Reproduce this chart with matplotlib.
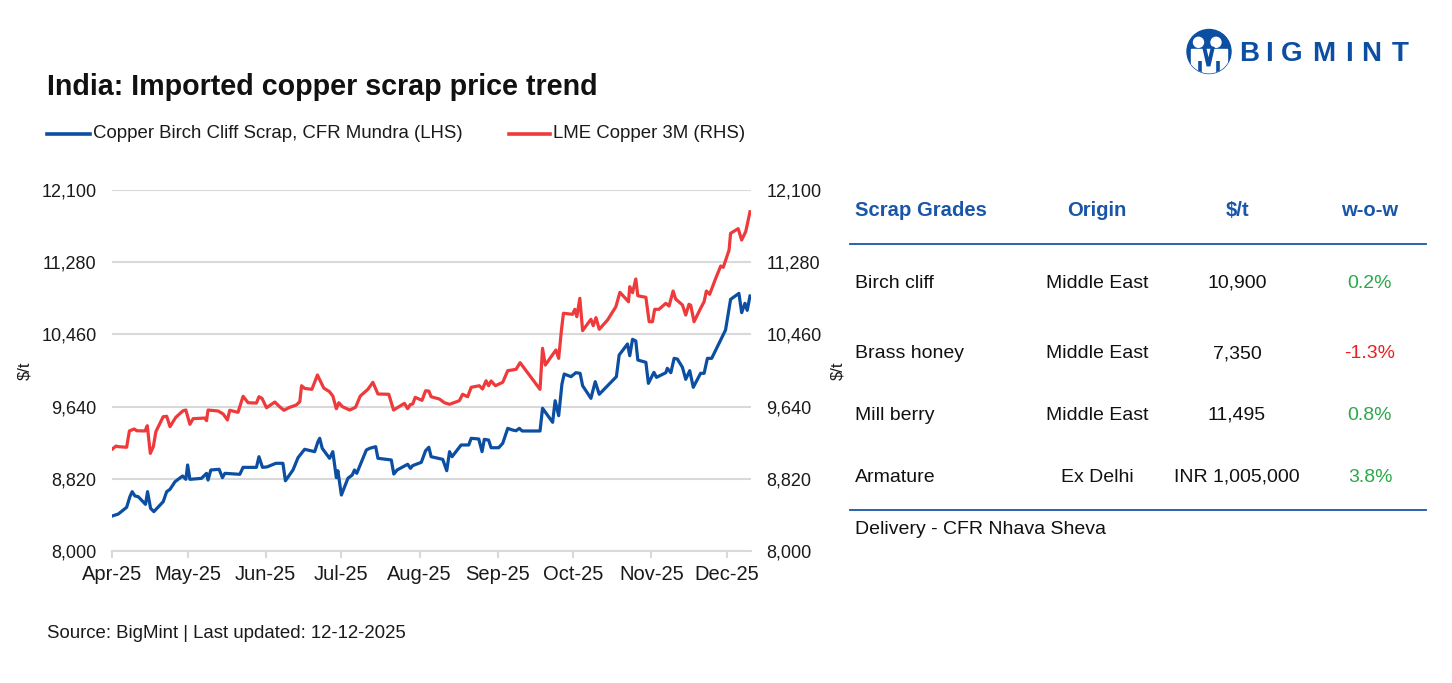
import matplotlib
matplotlib.use("Agg")
import matplotlib.pyplot as plt
import matplotlib.dates as mdates
import matplotlib.ticker as mticker
from matplotlib.patches import Circle, Polygon, Rectangle
import pandas as pd

plt.rcParams['font.family'] = ['Liberation Sans', 'DejaVu Sans']

# ---------------- data (days since 1 Apr 2025, $/t) ----------------
START = pd.Timestamp("2025-04-01")

red_days = [0, 1.6, 2.5, 5.8, 6.9, 8.8, 9.8, 13.1, 14.0, 15.2, 16.4, 17.4, 20.3, 21.7, 23.0,
            25.3, 28.2, 29.3, 30.9, 32.2, 36.8, 37.5, 38.1, 42.1, 44.1, 45.8, 46.7, 50.0, 52.0,
            54.0, 57.3, 58.3, 59.5, 61.3, 64.6, 66.5, 68.2, 70.5, 73.1, 74.5, 75.2, 76.4, 79.3,
            81.5, 84.0, 86.3, 87.6, 89.0, 90.0, 91.4, 94.3, 96.6, 98.5, 101.5, 103.5, 105.5,
            109.8, 111.7, 116.0, 117.3, 118.3, 119.3, 120.3, 123.0, 124.4, 125.7, 126.6, 129.9,
            131.9, 133.9, 137.8, 139.1, 141.1, 142.5, 145.7, 147.0, 148.4, 149.4, 150.4, 152.1,
            155.0, 157.0, 160.3, 161.9, 169.8, 170.8, 171.9, 176.1, 177.2, 178.3, 179.1, 182.7,
            183.6, 184.4, 185.6, 186.7, 188.6, 190.0, 190.9, 192.0, 193.3, 196.6, 199.9, 201.5,
            204.9, 205.4, 206.5, 207.8, 208.6, 211.8, 213.1, 214.4, 215.3, 217.0, 219.7, 221.0,
            222.6, 223.6, 226.3, 227.6, 228.9, 229.6, 230.9, 233.5, 234.9, 235.8, 237.1, 239.5,
            241.5, 242.5, 244.8, 245.4, 248.4, 249.8, 251.4, 253.1]
red_vals = [9155, 9192, 9185, 9178, 9363, 9386, 9366, 9363, 9423, 9109, 9185, 9355, 9525, 9530, 9412,
            9518, 9593, 9601, 9439, 9503, 9510, 9480, 9601, 9590, 9556, 9488, 9598, 9575, 9757,
            9684, 9680, 9752, 9734, 9627, 9692, 9639, 9598, 9632, 9658, 9696, 9877, 9847, 9836,
            9999, 9851, 9809, 9760, 9616, 9684, 9639, 9601, 9632, 9760, 9836, 9916, 9783,
            9780, 9601, 9677, 9616, 9662, 9670, 9745, 9711, 9820, 9816, 9752, 9726,
            9684, 9666, 9707, 9780, 9752, 9859, 9877, 9840, 9934, 9877, 9931, 9877,
            9916, 10048, 10063, 10139, 9836, 10302, 10112, 10283, 10188, 10510, 10700, 10688,
            10745, 10661, 10870, 10503, 10578, 10632, 10559, 10650, 10518, 10624, 10775, 10938,
            10831, 11002, 10934, 11089, 10899, 10881, 10604, 10604, 10745, 10745, 10813, 10782,
            10953, 10862, 10794, 10680, 10802, 10790, 10604, 10756, 10831, 10953, 10915, 11097,
            11237, 11222, 11418, 11608, 11661, 11532, 11627, 11853]

blue_days = [0, 2.5, 5.8, 7.1, 8.0, 9.1, 10.4, 13.3, 14.1, 15.3, 16.6, 20.3, 21.7, 23.0, 25.0,
             28.0, 29.3, 30.0, 30.9, 35.5, 37.5, 38.1, 39.2, 42.5, 43.8, 44.8, 50.7, 52.0, 57.3,
             58.3, 59.7, 61.5, 65.0, 67.8, 68.8, 71.8, 73.8, 76.4, 80.4, 81.7, 82.4, 83.4, 86.3,
             87.6, 89.0, 89.6, 91.0, 93.6, 95.3, 96.2, 97.1, 100.9, 102.2, 104.6, 105.5, 110.8,
             111.8, 113.1, 117.3, 118.4, 119.3, 122.7, 124.4, 125.7, 126.6, 131.2, 132.8, 133.9,
             134.9, 138.5, 141.5, 142.5, 145.5, 146.8, 147.7, 149.4, 150.4, 153.4, 155.0, 157.0,
             158.9, 160.3, 161.6, 162.7, 169.8, 170.8, 174.8, 175.8, 177.2, 178.5, 179.4, 182.1,
             184.0, 185.7, 186.7, 190.0, 191.7, 193.3, 200.1, 201.2, 204.5, 205.4, 206.5, 207.8,
             208.6, 211.8, 212.8, 215.0, 216.0, 219.7, 220.3, 221.7, 223.0, 224.3, 226.3, 227.6,
             229.2, 230.6, 233.5, 234.9, 236.2, 237.9, 243.4, 245.4, 248.7, 249.8, 251.1, 252.0,
             253.1]
blue_vals = [8397, 8420, 8496, 8617, 8674, 8625, 8617, 8530, 8674, 8485, 8447, 8560, 8674, 8700, 8787,
             8852, 8814, 8977, 8814, 8825, 8882, 8806, 8920, 8928, 8833, 8882, 8871, 8950, 8950,
             9071, 8950, 8955, 8996, 8996, 8798, 8920, 9060, 9155, 9128, 9241, 9280, 9166, 9053,
             9128, 8833, 8912, 8636, 8826, 8863, 8920, 8882, 9147, 9166, 9185, 9053, 9034,
             8874, 8920, 8985, 8939, 8970, 9007, 9139, 9178, 9071, 9041, 8912, 9128,
             9071, 9204, 9204, 9280, 9272, 9128, 9268, 9260, 9173, 9173, 9223, 9393,
             9374, 9366, 9393, 9363, 9363, 9621, 9462, 9707, 9537, 9897, 10010, 9980,
             10025, 10018, 9877, 9734, 9923, 9780, 9980, 10226, 10351, 10218, 10404, 10385,
             10169, 10143, 9904, 10029, 9972, 10025, 10075, 10025, 10188, 10180, 10086, 9950,
             10048, 9859, 10018, 10018, 10188, 10188, 10510, 10858, 10926, 10707, 10813, 10733,
             10896]

y_ticks = [8000, 8820, 9640, 10460, 11280, 12100]
month_ticks = ["2025-04-01", "2025-05-01", "2025-06-01", "2025-07-01", "2025-08-01",
               "2025-09-01", "2025-10-01", "2025-11-01", "2025-12-01"]

series_blue_name = "Copper Birch Cliff Scrap, CFR Mundra (LHS)"
series_red_name = "LME Copper 3M (RHS)"

table_header = ["Scrap Grades", "Origin", "$/t", "w-o-w"]
grades = ["Birch cliff", "Brass honey", "Mill berry", "Armature"]
origins = ["Middle East", "Middle East", "Middle East", "Ex Delhi"]
prices = ["10,900", "7,350", "11,495", "INR 1,005,000"]
wow = [0.2, -1.3, 0.8, 3.8]

# ---------------- styling ----------------
BLUE = "#0b4ea2"
RED = "#ee3a3b"
GREEN = "#2aa84a"
NEG = "#e8201e"
HEAD = "#1a56a8"
GRID = "#d9d9d9"
TXT = "#1a1a1a"

W, H = 1452, 683
fig = plt.figure(figsize=(W / 100, H / 100), dpi=100)

def fx(px):
    return px / W

def fy(py):
    return 1 - py / H

ax = fig.add_axes([fx(112), fy(551), fx(751) - fx(112), fy(190) - fy(551)])
ax2 = ax.twinx()

bd = [START + pd.Timedelta(days=d) for d in blue_days]
rd = [START + pd.Timedelta(days=d) for d in red_days]

ax.plot(bd, blue_vals, color=BLUE, lw=2.3, solid_joinstyle="round", zorder=3)
ax2.plot(rd, red_vals, color=RED, lw=2.3, solid_joinstyle="round", zorder=3)

for a in (ax, ax2):
    a.set_ylim(8000, 12100)
    a.set_yticks(y_ticks)
    a.yaxis.set_major_formatter(mticker.FuncFormatter(lambda v, p: f"{int(v):,}"))
    for s in a.spines.values():
        s.set_visible(False)
    a.tick_params(axis="y", length=0, labelsize=13, colors=TXT, pad=11)

ax.set_xlim(START, START + pd.Timedelta(days=253.5))
ax.set_xticks([pd.Timestamp(m) for m in month_ticks])
ax.xaxis.set_major_formatter(mdates.DateFormatter("%b-%y"))
ax.tick_params(axis="x", length=5, width=1.5, colors=GRID, labelcolor=TXT,
               labelsize=14.5, pad=5)
ax.spines["bottom"].set_visible(True)
ax.spines["bottom"].set_color(GRID)
ax.spines["bottom"].set_linewidth(1.5)
ax.yaxis.grid(True, color=GRID, lw=1.5)
ax.set_axisbelow(True)
ax.set_ylabel("$/t", fontsize=12, color=TXT)
ax2.set_ylabel("$/t", fontsize=12, color=TXT)
ax.yaxis.set_label_coords(-0.124, 0.5)
ax2.yaxis.set_label_coords(1.124, 0.5)

# ---------------- title & legend ----------------
fig.text(fx(47), fy(87), "India: Imported copper scrap price trend", fontsize=20.6,
         fontweight="bold", va="center", ha="left", color="#111111")
fig.add_artist(plt.Line2D([fx(47), fx(90)], [fy(134), fy(134)], color=BLUE, lw=2.6))
fig.text(fx(93), fy(134), series_blue_name, fontsize=13.4, va="center", ha="left", color=TXT)
fig.add_artist(plt.Line2D([fx(509), fx(550)], [fy(134), fy(134)], color=RED, lw=2.6))
fig.text(fx(553), fy(134), series_red_name, fontsize=13.4, va="center", ha="left", color=TXT)

fig.text(fx(47), fy(634), "Source: BigMint | Last updated: 12-12-2025", fontsize=13.4,
         va="center", ha="left", color=TXT)

# ---------------- table ----------------
col_x = [855, 1097, 1237, 1370]
col_ha = ["left", "center", "center", "center"]
for t, x, ha in zip(table_header, col_x, col_ha):
    fig.text(fx(x), fy(210), t, fontsize=14.6, fontweight="bold", color=HEAD, va="center", ha=ha)
fig.add_artist(plt.Line2D([fx(850), fx(1426)], [fy(244), fy(244)], color=HEAD, lw=1.3))
row_y = [283, 354, 415, 477]
for i, yy in enumerate(row_y):
    fig.text(fx(col_x[0]), fy(yy), grades[i], fontsize=14, color="#111111", va="center", ha="left")
    fig.text(fx(col_x[1]), fy(yy), origins[i], fontsize=14, color="#111111", va="center", ha="center")
    fig.text(fx(col_x[2]), fy(yy), prices[i], fontsize=14, color="#111111", va="center", ha="center")
    c = GREEN if wow[i] >= 0 else NEG
    fig.text(fx(col_x[3]), fy(yy), f"{wow[i]:.1f}%", fontsize=14, color=c, va="center", ha="center")
fig.add_artist(plt.Line2D([fx(850), fx(1426)], [fy(510), fy(510)], color=HEAD, lw=1.3))
fig.text(fx(855), fy(530), "Delivery - CFR Nhava Sheva", fontsize=14, color="#111111",
         va="center", ha="left")

# ---------------- logo ----------------
LOGO = "#0b4ea2"
lax = fig.add_axes([fx(1185), fy(75), fx(1233) - fx(1185), fy(27) - fy(75)])
lax.set_xlim(1185, 1233)
lax.set_ylim(75, 27)
lax.axis("off")
disc = Circle((1209, 51.5), 22, color=LOGO)
lax.add_patch(disc)
body = Rectangle((1191, 48.5), 36, 30, color="white")
lax.add_patch(body)
body.set_clip_path(disc)
lax.add_patch(Circle((1198.5, 42.3), 5, color="white"))
lax.add_patch(Circle((1216, 42.3), 5, color="white"))
m_left, = lax.plot([1200, 1200], [61, 76], color=LOGO, lw=2.6, solid_capstyle="butt")
m_right, = lax.plot([1218, 1218], [61, 76], color=LOGO, lw=2.6, solid_capstyle="butt")
m_mid, = lax.plot([1204.5, 1208.5, 1212.5], [48.5, 66, 48.5], color=LOGO, lw=2.8,
                  solid_joinstyle="miter")
for art in (m_left, m_right, m_mid):
    art.set_clip_path(disc)
letters = ["B", "I", "G", "M", "I", "N", "T"]
letter_x = [1249, 1269, 1292, 1324, 1349, 1371, 1400]
for ch, lx in zip(letters, letter_x):
    fig.text(fx(lx), fy(54), ch, fontsize=20, fontweight="bold", color=LOGO,
             va="center", ha="center")

fig.savefig("out.png", dpi=100)
